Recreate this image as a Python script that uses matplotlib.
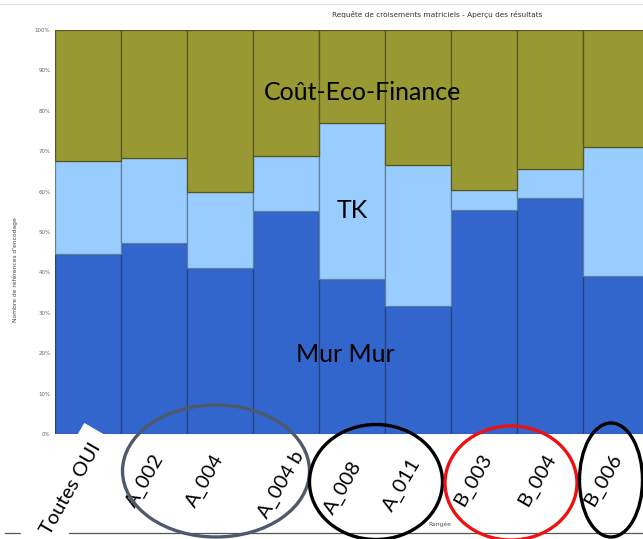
import matplotlib
matplotlib.use("Agg")
import matplotlib.pyplot as plt
from matplotlib.patches import Ellipse
from matplotlib.lines import Line2D

# data (percent of encodings)
categories = ['Toutes OUI', 'A_002', 'A_004', 'A_004 b', 'A_008',
              'A_011', 'B_003', 'B_004', 'B_006']
mur_mur = [44.6, 47.2, 41.1, 55.2, 38.4, 31.7, 55.5, 58.5, 39.1]
tk = [23.0, 21.0, 18.8, 13.5, 38.7, 34.8, 5.0, 7.1, 31.9]
cout_eco = [100 - a - b for a, b in zip(mur_mur, tk)]
series_names = ['Mur Mur', 'TK', 'Coût-Eco-Finance']
yticks = list(range(0, 101, 10))

W, H = 643, 539
fig = plt.figure(figsize=(W / 100, H / 100), dpi=100)
fig.patch.set_facecolor('white')


def fx(px):
    return px / W


def fy(py):
    return 1 - py / H


# axes: bars run from x=54.5px, 66.1px each, the last one is cut off
left, right, top, bottom = 54.5, 54.5 + 9 * 66.1, 30, 434
ax = fig.add_axes([fx(left), fy(bottom), (right - left) / W, (bottom - top) / H])

x = range(len(categories))
ax.bar(x, mur_mur, width=1.0, color='#3366cc', edgecolor='#23447e', linewidth=0.9)
ax.bar(x, tk, width=1.0, bottom=mur_mur, color='#99ccff', edgecolor='#5f7f9f', linewidth=0.9)
bot2 = [a + b for a, b in zip(mur_mur, tk)]
ax.bar(x, cout_eco, width=1.0, bottom=bot2, color='#999933', edgecolor='#55551c', linewidth=0.9)

ax.set_xlim(-0.5, len(categories) - 0.5)
ax.set_ylim(0, 100)
ax.set_xticks([])
ax.set_yticks(yticks)
ax.set_yticklabels(['{}%'.format(v) for v in yticks], fontsize=4, color='#666666')
ax.tick_params(axis='y', length=0, pad=3)
for s in ax.spines.values():
    s.set_visible(False)

# chart texts from the original report
fig.text(fx(437), fy(15), 'Requête de croisements matriciels - Aperçu des résultats',
         ha='center', va='center', fontsize=5.3, color='#333333')
fig.text(fx(15), fy(270), "Nombre de références d'encodage", rotation=90,
         ha='center', va='center', fontsize=4.3, color='#444444')
fig.text(fx(440), fy(524), 'Rangée', ha='center', va='center', fontsize=4.3, color='#555555')
fig.add_artist(Line2D([0, 1], [fy(4), fy(4)], color='#e4e4e4', lw=0.8))
fig.add_artist(Line2D([fx(5), 1], [fy(533), fy(533)], color='#555555', lw=0.9, zorder=1))

# big overlay labels
big = ['Lato', 'DejaVu Sans']
fig.text(fx(363), fy(92), series_names[2], ha='center', va='center', fontsize=18, family=big)
fig.text(fx(352), fy(210), series_names[1], ha='center', va='center', fontsize=18, family=big)
fig.text(fx(345), fy(354), series_names[0], ha='center', va='center', fontsize=18, family=big)

# rotated category labels (hand placed in the reference)
label_dx = [14, 11, 5, 19, 11, 4, 9, 7, 6]
label_top = [440, 451, 451, 448, 458, 455, 451, 451, 451]
label_pad = [9, 3, 3, 4, 3, 3, 3, 3, 3]
for i, name in enumerate(categories):
    cx = left + 66.1 * (i + 0.5) + label_dx[i] + 2
    fig.text(fx(cx), fy(label_top[i]), name, rotation=60, ha='right', va='top',
             fontsize=14.5, family=big, zorder=3,
             bbox=dict(facecolor='white', edgecolor='none', pad=label_pad[i]))

# circles drawn over the labels
for cx, cy, w, h, col in [(216, 471, 187, 132, '#4d5a6b'),
                          (376, 482, 133, 115, 'black'),
                          (511, 483, 132, 114, '#ee1111'),
                          (611, 480, 63, 114, 'black')]:
    fig.add_artist(Ellipse((fx(cx), fy(cy)), w / W, h / H, fill=False,
                           edgecolor=col, lw=2.4, zorder=5))

fig.savefig('out.png', dpi=100)
